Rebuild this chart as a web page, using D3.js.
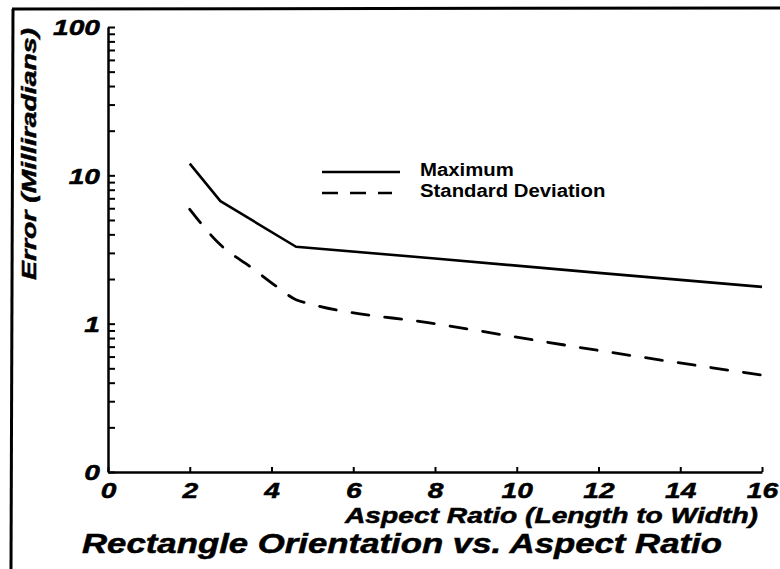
<!DOCTYPE html>
<html>
<head>
<meta charset="utf-8">
<script src="https://cdn.jsdelivr.net/npm/d3@7"></script>
<style>
  body { margin: 0; background: #fff; }
  svg { display: block; }
  text { font-family: "Liberation Sans", Arial, Helvetica, sans-serif; fill: #000; }
  .heavy { stroke: #000; stroke-width: 0.5px; }
</style>
</head>
<body>
<svg id="chart" width="780" height="569"></svg>
<script>
// Error vs aspect ratio, two series on a log scale
const aspectMax = [2, 2.75, 4.6, 8, 12, 16];
const errorMax  = [12, 6.7, 3.3, 2.75, 2.2, 1.77];

const aspectSd  = [2, 2.75, 3.5, 4.1, 4.6, 4.9, 8, 12, 16];
const errorSd   = [5.9, 3.4, 2.4, 1.8, 1.45, 1.37, 1.0, 0.66, 0.45];

const seriesNames = ["Maximum", "Standard Deviation"];

const xTickValues = [0, 2, 4, 6, 8, 10, 12, 14, 16];
const yMajorValues = [0.1, 1, 10, 100];
const yMajorLabels = ["0", "1", "10", "100"];

const svg = d3.select("#chart");

const x = d3.scaleLinear().domain([0, 16]).range([108, 762]);
const y = d3.scaleLog().domain([0.1, 100]).range([472, 27]);

// stretch helper: the lettering is a wide face, so widen each glyph run
function widen(sel, k) {
  sel.each(function () {
    const w = this.getComputedTextLength();
    if (w > 0) d3.select(this).attr("textLength", w * k).attr("lengthAdjust", "spacingAndGlyphs");
  });
}

// outer frame (left and top rules)
svg.append("line").attr("x1", 13).attr("y1", 9).attr("x2", 11).attr("y2", 569)
  .attr("stroke", "#000").attr("stroke-width", 3);
svg.append("line").attr("x1", 12).attr("y1", 9).attr("x2", 780).attr("y2", 8)
  .attr("stroke", "#000").attr("stroke-width", 3);

// y axis: log scale, every minor tick drawn inward, labels on decades only
const isDecade = v => Math.abs(Math.log10(v) - Math.round(Math.log10(v))) < 1e-9;
const yAxis = d3.axisLeft(y)
  .tickValues(y.ticks())
  .tickSize(-7)
  .tickSizeOuter(0)
  .tickPadding(8)
  .tickFormat(v => {
    if (!isDecade(v)) return "";
    const i = yMajorValues.findIndex(m => Math.abs(m - v) < 1e-9);
    return i >= 0 ? yMajorLabels[i] : "";
  });

const gy = svg.append("g").attr("transform", `translate(${x(0)},0)`).call(yAxis);
gy.select(".domain").attr("stroke", "#000").attr("stroke-width", 2.5);
gy.selectAll(".tick line").attr("stroke", "#000").attr("stroke-width", 2);
gy.selectAll(".tick text")
  .attr("class", "heavy")
  .attr("font-size", 22).attr("font-weight", "bold").attr("font-style", "italic")
  .attr("dy", "0.36em").attr("fill", "#000");
widen(gy.selectAll(".tick text"), 1.28);

// x axis: ticks pointing up into the plot
const xAxis = d3.axisBottom(x)
  .tickValues(xTickValues)
  .tickSize(-5)
  .tickSizeOuter(0)
  .tickPadding(10)
  .tickFormat(d3.format("d"));

const gx = svg.append("g").attr("transform", `translate(0,${y(0.1)})`).call(xAxis);
gx.select(".domain").attr("stroke", "#000").attr("stroke-width", 2.5);
gx.selectAll(".tick line").attr("stroke", "#000").attr("stroke-width", 2);
gx.selectAll(".tick text")
  .attr("class", "heavy")
  .attr("font-size", 22).attr("font-weight", "bold").attr("font-style", "italic")
  .attr("fill", "#000");
widen(gx.selectAll(".tick text"), 1.28);

// series lines
const lineMax = d3.line()
  .x((d, i) => x(aspectMax[i]))
  .y(d => y(d))
  .curve(d3.curveLinear);

const lineSd = d3.line()
  .x((d, i) => x(aspectSd[i]))
  .y(d => y(d))
  .curve(d3.curveMonotoneX);

svg.append("path").datum(errorMax)
  .attr("d", lineMax)
  .attr("fill", "none").attr("stroke", "#000").attr("stroke-width", 2.6)
  .attr("stroke-linejoin", "round");

svg.append("path").datum(errorSd)
  .attr("d", lineSd)
  .attr("fill", "none").attr("stroke", "#000").attr("stroke-width", 2.8)
  .attr("stroke-dasharray", "17,16").attr("stroke-linecap", "round");

// legend
const legend = svg.append("g");
legend.append("line").attr("x1", 322).attr("x2", 400).attr("y1", 172).attr("y2", 172)
  .attr("stroke", "#000").attr("stroke-width", 2.4);
legend.append("line").attr("x1", 322).attr("x2", 392).attr("y1", 193).attr("y2", 193)
  .attr("stroke", "#000").attr("stroke-width", 2.4).attr("stroke-dasharray", "16,12");
legend.selectAll("text.leg").data(seriesNames).join("text")
  .attr("class", "leg")
  .attr("x", 420)
  .attr("y", (d, i) => 176 + i * 21)
  .attr("font-size", 18).attr("font-weight", "bold")
  .text(d => d);
widen(legend.selectAll("text.leg"), 1.13);

// axis titles and chart title
svg.append("text")
  .attr("class", "heavy")
  .attr("transform", "translate(36,154) rotate(-90)")
  .attr("text-anchor", "middle")
  .attr("font-size", 21).attr("font-weight", "bold").attr("font-style", "italic")
  .attr("textLength", 252).attr("lengthAdjust", "spacingAndGlyphs")
  .text("Error (Milliradians)");

svg.append("text")
  .attr("class", "heavy")
  .attr("x", 758).attr("y", 523)
  .attr("text-anchor", "end")
  .attr("font-size", 22).attr("font-weight", "bold").attr("font-style", "italic")
  .attr("textLength", 413).attr("lengthAdjust", "spacingAndGlyphs")
  .text("Aspect Ratio (Length to Width)");

svg.append("text")
  .attr("class", "heavy")
  .attr("x", 82).attr("y", 553)
  .attr("font-size", 27).attr("font-weight", "bold").attr("font-style", "italic")
  .attr("textLength", 640).attr("lengthAdjust", "spacingAndGlyphs")
  .text("Rectangle Orientation vs. Aspect Ratio");
</script>
</body>
</html>
